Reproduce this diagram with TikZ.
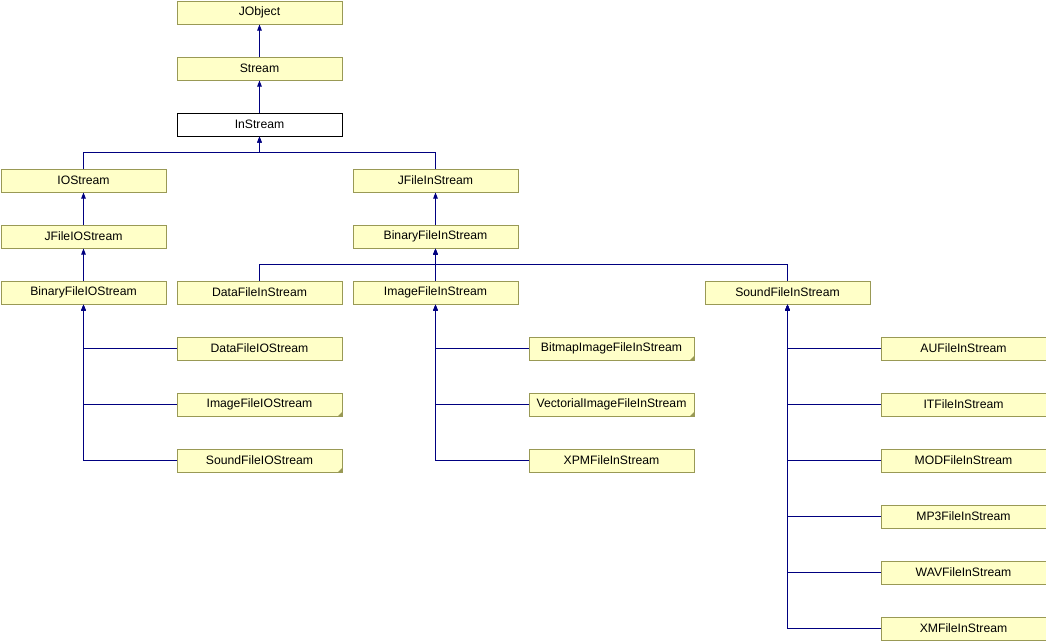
\documentclass[tikz,border=0pt]{standalone}
\usepackage{fontspec}
\setmainfont{Liberation Sans}
\usetikzlibrary{arrows.meta}
\definecolor{boxfill}{RGB}{255,255,200}
\definecolor{boxline}{RGB}{153,153,85}
\definecolor{edgeblue}{RGB}{0,0,128}
\tikzset{
  cls/.style={draw=boxline, fill=boxfill, line width=1pt, minimum width=165pt, minimum height=23pt,
    inner sep=0pt, anchor=north west, font=\fontsize{12.2}{14}\selectfont},
  focus/.style={cls, draw=black, fill=white},
  edge/.style={draw=edgeblue, line width=1pt, -{Triangle[width=4.5pt,length=6pt]}},
  fold/.style={fill=boxline}
}
\newcommand{\foldcorner}[1]{\fill[fold] (#1.south east) -- ++(-5pt,0) -- ++(5pt,5pt) -- cycle;}
\begin{document}
\begin{tikzpicture}[x=1pt,y=1pt]
\useasboundingbox (0,0) rectangle (1046,-640);
% columns
\def\cA{0.5}\def\cB{176.5}\def\cC{352.5}\def\cD{528.5}\def\cE{704.5}\def\cF{880.5}
\node[cls] (jobject) at (\cB,-0.5) {JObject};
\node[cls] (stream) at (\cB,-56.5) {Stream};
\node[focus] (instream) at (\cB,-112.5) {InStream};
\node[cls] (iostream) at (\cA,-168.5) {IOStream};
\node[cls] (jfilein) at (\cC,-168.5) {JFileInStream};
\node[cls] (jfileio) at (\cA,-224.5) {JFileIOStream};
\node[cls] (binin) at (\cC,-224.5) {BinaryFileInStream};
\node[cls] (binio) at (\cA,-280.5) {BinaryFileIOStream};
\node[cls] (datain) at (\cB,-280.5) {DataFileInStream};
\node[cls] (imagein) at (\cC,-280.5) {ImageFileInStream};
\node[cls] (soundin) at (\cE,-280.5) {SoundFileInStream};
\node[cls] (dataio) at (\cB,-336.5) {DataFileIOStream};
\node[cls] (imageio) at (\cB,-392.5) {ImageFileIOStream};
\node[cls] (soundio) at (\cB,-448.5) {SoundFileIOStream};
\node[cls] (bitmap) at (\cD,-336.5) {BitmapImageFileInStream};
\node[cls] (vect) at (\cD,-392.5) {VectorialImageFileInStream};
\node[cls] (xpm) at (\cD,-448.5) {XPMFileInStream};
\node[cls] (au) at (\cF,-336.5) {AUFileInStream};
\node[cls] (it) at (\cF,-392.5) {ITFileInStream};
\node[cls] (mod) at (\cF,-448.5) {MODFileInStream};
\node[cls] (mp3) at (\cF,-504.5) {MP3FileInStream};
\node[cls] (wav) at (\cF,-560.5) {WAVFileInStream};
\node[cls] (xm) at (\cF,-616.5) {XMFileInStream};
\foldcorner{imageio}
\foldcorner{soundio}
\foldcorner{bitmap}
\foldcorner{vect}
% edges
\draw[edge] (stream.north) -- (jobject.south);
\draw[edge] (instream.north) -- (stream.south);
\draw[edge] (iostream.north) -- ++(0,16) -| (instream.south);
\draw[edge] (jfilein.north) -- ++(0,16) -| (instream.south);
\draw[edge] (jfileio.north) -- (iostream.south);
\draw[edge] (binio.north) -- (jfileio.south);
\draw[edge] (binin.north) -- (jfilein.south);
\draw[edge] (datain.north) -- ++(0,16) -| (binin.south);
\draw[edge] (imagein.north) -- (binin.south);
\draw[edge] (soundin.north) -- ++(0,16) -| (binin.south);
\foreach \c in {dataio,imageio,soundio} \draw[edge] (\c.west) -| (binio.south);
\foreach \c in {bitmap,vect,xpm} \draw[edge] (\c.west) -| (imagein.south);
\foreach \c in {au,it,mod,mp3,wav,xm} \draw[edge] (\c.west) -| (soundin.south);
\end{tikzpicture}
\end{document}
